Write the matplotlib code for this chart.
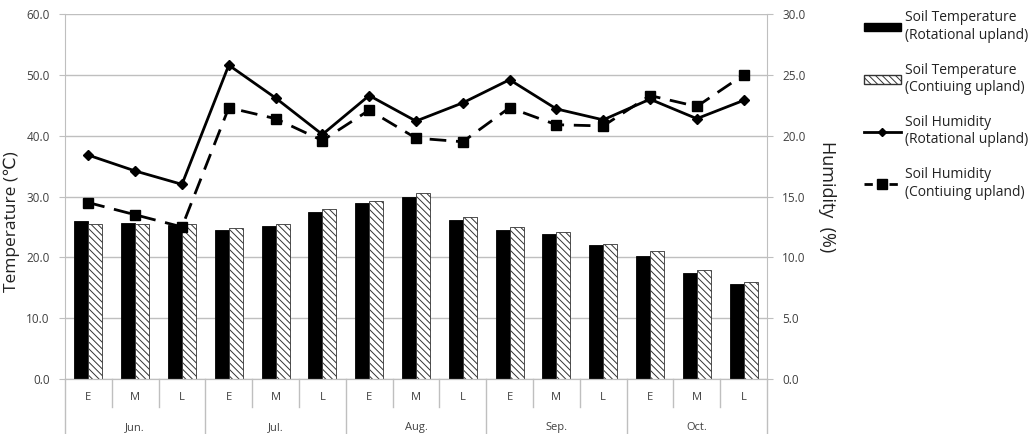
import matplotlib
matplotlib.use("Agg")
import matplotlib.pyplot as plt
import matplotlib.transforms as mtransforms
from matplotlib.patches import Patch
from matplotlib.lines import Line2D
import numpy as np

plt.rcParams['font.family'] = ['Open Sans', 'DejaVu Sans']
plt.rcParams['hatch.linewidth'] = 0.7
plt.rcParams['hatch.color'] = '#555555'

# data
months = ['Jun.', 'Jul.', 'Aug.', 'Sep.', 'Oct.']
periods = ['E', 'M', 'L']
temp_rotational = [26.0, 25.7, 25.3, 24.5, 25.2, 27.5, 28.9, 30.0, 26.2,
                   24.5, 23.9, 22.0, 20.3, 17.4, 15.6]
temp_continuing = [25.4, 25.4, 25.4, 24.8, 25.4, 27.9, 29.2, 30.5, 26.7,
                   25.0, 24.1, 22.2, 21.0, 18.0, 15.9]
hum_rotational = [18.4, 17.1, 16.0, 25.8, 23.1, 20.1, 23.3, 21.2, 22.7,
                  24.6, 22.2, 21.3, 23.0, 21.4, 22.9]
hum_continuing = [14.5, 13.5, 12.5, 22.3, 21.4, 19.6, 22.1, 19.8, 19.5,
                  22.3, 20.9, 20.8, 23.3, 22.4, 25.0]

grey = '#bfbfbf'
txt = '#404040'

fig = plt.figure(figsize=(10.28, 4.34), dpi=100)
ax = fig.add_axes([0.0632, 0.1267, 0.6829, 0.841])
ax2 = ax.twinx()

x = np.arange(len(temp_rotational))
w = 0.3
ax.bar(x - w / 2, temp_rotational, w, color='black', edgecolor='black', linewidth=0.6, zorder=2)
ax.bar(x + w / 2, temp_continuing, w, color='white', edgecolor='#333333', linewidth=0.6,
       hatch='\\\\\\\\\\', zorder=2)

ax2.plot(x, hum_rotational, color='black', lw=2, marker='D', ms=5, zorder=3)
ax2.plot(x, hum_continuing, color='black', lw=2, ls=(0, (6, 3.5)), marker='s', ms=7, zorder=3)

ax.set_xlim(-0.5, len(x) - 0.5)
ax.set_ylim(0, 60)
ax.set_yticks(np.arange(0, 61, 10))
ax.set_yticklabels([f'{v:.1f}' for v in np.arange(0, 61, 10)])
ax2.set_ylim(0, 30)
ax2.set_yticks(np.arange(0, 31, 5))
ax2.set_yticklabels([f'{v:.1f}' for v in np.arange(0, 31, 5)])

ax.yaxis.grid(True, color=grey, lw=1)
ax.set_axisbelow(True)
for a in (ax, ax2):
    a.spines['top'].set_visible(False)
    for s in ('left', 'right', 'bottom'):
        a.spines[s].set_color(grey)
ax2.spines['left'].set_visible(False)
ax.spines['right'].set_visible(False)

ax.tick_params(axis='y', length=4, color=grey, labelsize=8.5, labelcolor=txt, pad=7)
ax2.tick_params(axis='y', length=4, color=grey, labelsize=8.5, labelcolor=txt, pad=7)

# two-level category axis
ax.set_xticks(x)
ax.set_xticklabels(periods * len(months), fontsize=8, color=txt)
ax.tick_params(axis='x', length=0, pad=9)
trans = mtransforms.blended_transform_factory(ax.transData, ax.transAxes)
for i in range(len(x) + 1):
    edge = i - 0.5
    low = -0.18 if i % 3 == 0 else -0.078
    ax.plot([edge, edge], [0, low], transform=trans, color=grey, lw=1, clip_on=False)
for j, m in enumerate(months):
    ax.text(j * 3 + 1, -0.133, m, transform=trans, ha='center', va='center',
            fontsize=8, color=txt)

ax.set_ylabel('Temperature (℃)', fontsize=12.5, color='#222222')
ax.yaxis.set_label_coords(-0.064, 0.43)
ax2.set_ylabel('Humidity  (%)', fontsize=13, color='#222222', rotation=-90, va='bottom')
ax2.yaxis.set_label_coords(1.072, 0.5)

handles = [
    Patch(facecolor='black', edgecolor='black'),
    Patch(facecolor='white', edgecolor='#333333', hatch='\\\\\\\\\\'),
    Line2D([], [], color='black', lw=2, marker='D', ms=4),
    Line2D([], [], color='black', lw=2, ls=(0, (3, 1.5)), marker='s', ms=7),
]
labels = [
    'Soil Temperature\n(Rotational upland)',
    'Soil Temperature\n(Contiuing upland)',
    'Soil Humidity\n(Rotational upland)',
    'Soil Humidity\n(Contiuing upland)',
]
fig.legend(handles, labels, loc='upper left', bbox_to_anchor=(0.828, 1.005),
           frameon=False, fontsize=10, handlelength=2.7, handleheight=0.55,
           handletextpad=0.3, labelspacing=1.45, labelcolor='#222222')

fig.savefig('out.png', dpi=100)
